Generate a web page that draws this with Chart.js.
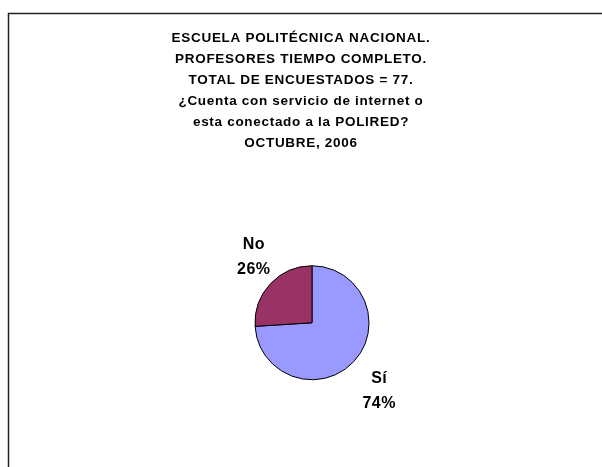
<!DOCTYPE html>
<html>
<head>
<meta charset="utf-8">
<script src="https://cdn.jsdelivr.net/npm/chart.js@4"></script>
<style>
  html, body { margin: 0; padding: 0; background: #fff; }
  #wrap { position: relative; width: 602px; height: 467px; }
</style>
</head>
<body>
<div id="wrap"><canvas id="chart" width="602" height="467"></canvas></div>
<script>
const categorias = ['Sí', 'No'];
const porcentajes = [74, 26];
const colores = ['#9999FF', '#993366'];
const titulo = [
    'ESCUELA POLITÉCNICA NACIONAL.',
    'PROFESORES TIEMPO COMPLETO.',
    'TOTAL DE ENCUESTADOS = 77.',
    '¿Cuenta con servicio de internet o',
    'esta conectado a la POLIRED?',
    'OCTUBRE, 2006'
];

// marco del grafico (solo linea superior e izquierda)
const marco = {
    id: 'marco',
    afterLayout(chart) {
        // el pastel va un poco a la derecha del titulo
        chart.chartArea.left += 22;
        chart.chartArea.width -= 22;
    },
    beforeDraw(chart) {
        const c = chart.ctx;
        c.save();
        c.strokeStyle = '#222';
        c.lineWidth = 1.5;
        c.beginPath();
        c.moveTo(8.5, 467);
        c.lineTo(8.5, 13.5);
        c.lineTo(602, 13.5);
        c.stroke();
        c.restore();
        // el texto original va algo espaciado
        c.letterSpacing = '0.7px';
    }
};

// etiquetas fuera de cada porcion: nombre y porcentaje
const etiquetas = {
    id: 'etiquetas',
    afterDatasetsDraw(chart) {
        const c = chart.ctx;
        const meta = chart.getDatasetMeta(0);
        c.save();
        c.font = 'bold 16px "Liberation Sans", Arial, sans-serif';
        c.letterSpacing = '0.5px';
        c.fillStyle = '#000';
        c.textAlign = 'center';
        c.textBaseline = 'middle';
        meta.data.forEach((arc, i) => {
            const p = arc.getProps(['x', 'y', 'startAngle', 'endAngle', 'outerRadius'], true);
            const ang = (p.startAngle + p.endAngle) / 2;
            const x = p.x + 4.5 + Math.cos(ang) * (p.outerRadius + 29);
            const y = p.y + 1.5 + Math.sin(ang) * (p.outerRadius + 41);
            c.fillText(categorias[i], x, y - 12.5);
            c.fillText(porcentajes[i] + '%', x, y + 12.5);
        });
        c.restore();
    }
};

const ctx = document.getElementById('chart').getContext('2d');
new Chart(ctx, {
    type: 'pie',
    data: {
        labels: categorias,
        datasets: [{
            data: porcentajes,
            backgroundColor: colores,
            borderColor: '#000',
            borderWidth: 1,
            radius: 57
        }]
    },
    options: {
        responsive: false,
        animation: false,
        layout: {
            padding: 0
        },
        plugins: {
            legend: { display: false },
            tooltip: { enabled: false },
            title: {
                display: true,
                text: titulo,
                color: '#000',
                padding: { top: 28, bottom: 25 },
                font: { family: '"Liberation Sans", Arial, sans-serif', size: 13.5, weight: 'bold', lineHeight: 1.55 }
            }
        }
    },
    plugins: [marco, etiquetas]
});
</script>
</body>
</html>
